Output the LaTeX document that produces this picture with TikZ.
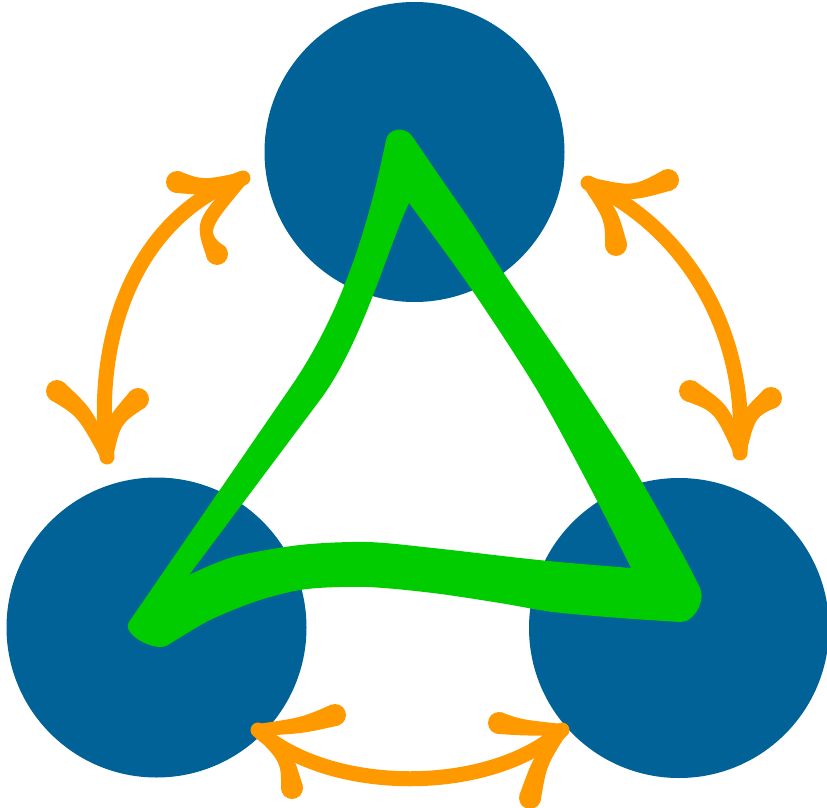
\documentclass[tikz,border=0pt]{standalone}
\usetikzlibrary{calc}
\definecolor{ballblue}{RGB}{0,98,150}
\definecolor{trigreen}{RGB}{0,204,0}
\definecolor{arrorange}{RGB}{255,153,0}
\newcommand\brushbarb[3]{%
  \fill[arrorange] ($(#1)!6pt!90:(#2)$) .. controls ($(#2)!8pt!-90:(#1)$) .. ($(#3)!11pt!-90:(#2)$)
     -- ($(#3)!11pt!90:(#2)$) .. controls ($(#2)!8pt!90:(#1)$) .. ($(#1)!6pt!-90:(#2)$) -- cycle;
  \fill[arrorange] (#3) circle (11pt) (#1) circle (6pt);}
\begin{document}
\begin{tikzpicture}[x=1pt,y=-1pt,
  ball/.style={circle, fill=ballblue, inner sep=0pt, minimum size=300pt},
  shaft/.style={draw=arrorange, line width=15pt, line cap=round}]
\useasboundingbox (0,0) rectangle (827,808);
\fill[white] (0,0) rectangle (827,808);
% circles
\node[ball] (top) at (414.5,152) {};
\node[ball] (bl) at (156.5,627.5) {};
\node[ball] (br) at (679,628) {};
% green hand-drawn triangle (outer and inner outline, filled even-odd)
\fill[trigreen, even odd rule]
  (386,140) .. controls (388,128) and (405,126) .. (412,136)
  -- plot[smooth, tension=0.5] coordinates {
    (412,136) (440,177) (473,225) (507,278) (570,370) (633,467) (683,555) (700,588)}
  .. controls (706,600) and (694,623) .. (680,622)
  -- plot[smooth, tension=0.5] coordinates {
    (680,622) (620,618) (553,612) (500,603) (433,593) (367,587) (307,589)
    (260,600) (210,620) (168,645)}
  .. controls (155,653) and (121,634) .. (129,622)
  -- (290,388) .. controls (347,306) and (372,209) .. (386,140) -- cycle
  (409,203)
  -- plot[smooth, tension=0.5] coordinates {
    (409,203) (470,287) (537,390) (593,493) (631,568)}
  -- plot[smooth, tension=0.5] coordinates {
    (631,568) (570,563) (520,558) (433,548) (367,542) (300,545) (233,557) (189,575)}
  -- (320,400) .. controls (362,344) and (388,247) .. (409,203) -- cycle;
% arrow end points
\coordinate (L1) at (243,178);
\coordinate (L2) at (107,457);
\coordinate (R1) at (588,183);
\coordinate (R2) at (740,453);
\coordinate (B1) at (258,730);
\coordinate (B2) at (562,730);
% left arrow
\draw[shaft] (L1) .. controls (140,215) and (92,330) .. (L2);
\brushbarb{L1}{205,188}{177,182}
\brushbarb{L1}{200,226.5}{217,254}
\brushbarb{L2}{85,412.5}{57,391}
\brushbarb{L2}{112.5,422.5}{138,399}
% right arrow
\draw[shaft] (R1) .. controls (685,228) and (748,330) .. (R2);
\brushbarb{R1}{631,194.5}{668,180}
\brushbarb{R1}{611.5,215}{616,245}
\brushbarb{R2}{722,408.5}{690,391}
\brushbarb{R2}{747.5,415}{771,398}
% bottom arrow
\draw[shaft] (B1) .. controls (330,795) and (490,795) .. (B2);
\brushbarb{B1}{302.5,725.5}{335,715}
\brushbarb{B1}{286.5,756}{292,788}
\brushbarb{B2}{520.5,727.5}{499,723}
\brushbarb{B2}{540,761}{530,798}
\end{tikzpicture}
\end{document}
